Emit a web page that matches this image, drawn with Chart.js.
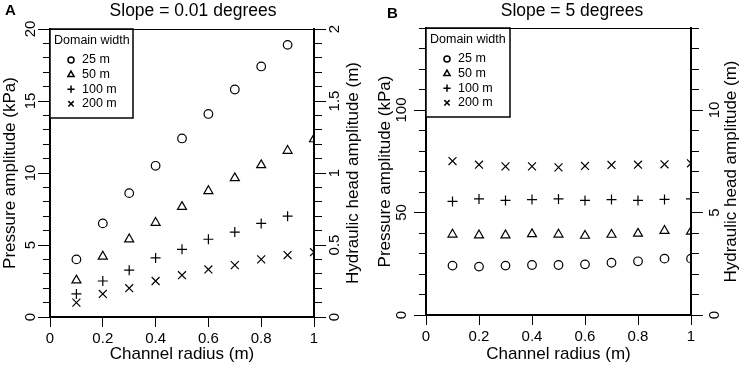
<!DOCTYPE html>
<html lang="en">
<head>
    <meta charset="UTF-8">
    <title>Pressure amplitude vs channel radius</title>
    <script src="https://cdn.jsdelivr.net/npm/chart.js"></script>
    <style>
        body {
            margin: 0;
            background-color: white;
        }
        .panel {
            position: absolute;
            top: 0;
            width: 372px;
            height: 367px;
        }
    </style>
</head>
<body>
    <div class="panel" style="left: 0px;"><canvas id="chartA" width="372" height="367"></canvas></div>
    <div class="panel" style="left: 371px;"><canvas id="chartB" width="372" height="367"></canvas></div>

    <script>
        // Data
        const radius = [0.1, 0.2, 0.3, 0.4, 0.5, 0.6, 0.7, 0.8, 0.9, 1.0];
        const widthLabels = ['25 m', '50 m', '100 m', '200 m'];

        // Panel A, slope 0.01 degrees (kPa)
        const slopeA25 = [4.0, 6.5, 8.6, 10.5, 12.4, 14.1, 15.8, 17.4, 18.9, null];
        const slopeA50 = [2.55, 4.2, 5.4, 6.55, 7.65, 8.75, 9.65, 10.55, 11.55, 12.35];
        const slopeA100 = [1.6, 2.5, 3.25, 4.1, 4.7, 5.4, 5.9, 6.5, 7.0, null];
        const slopeA200 = [1.0, 1.6, 2.0, 2.5, 2.9, 3.3, 3.6, 4.0, 4.3, 4.5];

        // Panel B, slope 5 degrees (kPa)
        const slopeB25 = [24.1, 23.6, 24.1, 24.4, 24.4, 24.7, 25.5, 26.2, 27.5, 27.5];
        const slopeB50 = [39.3, 38.9, 38.9, 39.5, 39.3, 38.7, 39.2, 39.7, 41.1, 40.7];
        const slopeB100 = [55.4, 56.6, 55.9, 56.3, 56.6, 55.9, 56.3, 55.9, 56.4, 56.6];
        const slopeB200 = [75.1, 73.3, 72.5, 72.5, 72.0, 72.7, 73.2, 73.3, 73.5, 74.0];

        const FONT = '"Liberation Sans", Arial, sans-serif';
        const markers = [
            { style: 'circle', r: 4.3, legendR: 3 },
            { style: 'triangle', r: 5.2, legendR: 3.6 },
            { style: 'cross', r: 5, legendR: 3.6 },
            { style: 'crossRot', r: 5.6, legendR: 3.8 }
        ];

        function isMultiple(v, step) {
            const q = v / step;
            return Math.abs(q - Math.round(q)) < 1e-6;
        }

        function fmt(v) {
            return String(Number(v.toFixed(3)));
        }

        // titles, panel letter, right axis title and the top border
        const panelText = {
            id: 'panelText',
            afterDraw(chart, args, opts) {
                const ctx = chart.ctx;
                const area = chart.chartArea;
                ctx.save();
                ctx.fillStyle = '#000';
                ctx.textBaseline = 'middle';
                ctx.font = 'bold 15px ' + FONT;
                ctx.textAlign = 'left';
                ctx.fillText(opts.letter, opts.letterX, opts.letterY);
                ctx.font = '17.5px ' + FONT;
                ctx.textAlign = 'center';
                ctx.fillText(opts.title, opts.titleX, 11);

                ctx.translate(opts.rightTitleX, (area.top + area.bottom) / 2);
                ctx.rotate(-Math.PI / 2);
                ctx.font = '17px ' + FONT;
                ctx.fillText(opts.rightTitle, 0, 0);
                ctx.restore();

                ctx.save();
                ctx.strokeStyle = '#000';
                ctx.lineWidth = 1;
                ctx.beginPath();
                ctx.moveTo(area.left, area.top + 0.5);
                ctx.lineTo(area.right, area.top + 0.5);
                ctx.stroke();
                ctx.restore();
            }
        };

        // "Domain width" key in the top left corner
        const domainKey = {
            id: 'domainKey',
            afterDatasetsDraw(chart, args, opts) {
                const ctx = chart.ctx;
                const area = chart.chartArea;
                ctx.save();
                ctx.fillStyle = '#fff';
                ctx.fillRect(area.left, area.top, opts.w, opts.h);
                ctx.strokeStyle = '#000';
                ctx.lineWidth = 1.5;
                ctx.strokeRect(area.left, area.top, opts.w, opts.h);
                ctx.fillStyle = '#000';
                ctx.textBaseline = 'middle';
                ctx.textAlign = 'left';
                ctx.font = '12.5px ' + FONT;
                ctx.fillText('Domain width', area.left + 4, area.top + 12);
                chart.data.datasets.forEach((ds, i) => {
                    const y = area.top + 31 + i * 14.6;
                    ctx.strokeStyle = '#000';
                    ctx.fillStyle = 'rgba(0,0,0,0)';
                    Chart.helpers.drawPoint(ctx, {
                        pointStyle: markers[i].style,
                        radius: markers[i].legendR,
                        borderWidth: 1.2,
                        rotation: 0
                    }, area.left + 21, y);
                    ctx.fillStyle = '#000';
                    ctx.fillText(ds.label, area.left + 32, y);
                });
                ctx.restore();
            }
        };

        function makeDatasets(seriesList) {
            return seriesList.map((values, i) => ({
                label: widthLabels[i],
                data: radius.map((r, j) => ({ x: r, y: values[j] })),
                showLine: false,
                pointStyle: markers[i].style,
                pointRadius: markers[i].r,
                pointBorderWidth: 1.2,
                pointBorderColor: '#000',
                pointBackgroundColor: 'rgba(0,0,0,0)'
            }));
        }

        // one axis per side: minor ticks every minorStep, longer labelled ticks every majorStep
        function yAxis(position, max, majorStep, minorStep, width, labelPad, title, titlePad) {
            return {
                type: 'linear',
                display: true,
                position: position,
                min: 0,
                max: max,
                ticks: {
                    stepSize: minorStep,
                    autoSkip: false,
                    minRotation: 90,
                    maxRotation: 90,
                    crossAlign: 'center',
                    padding: labelPad,
                    color: '#000',
                    font: { family: FONT, size: 15 },
                    callback: v => isMultiple(v, majorStep) ? fmt(v) : ''
                },
                grid: {
                    drawOnChartArea: false,
                    tickLength: 12,
                    tickColor: '#000',
                    tickWidth: 1,
                    tickBorderDash: ctx => {
                        if (isMultiple(ctx.tick.value, majorStep)) return [];
                        return position === 'left' ? [0, 5, 7, 0] : [7, 5];
                    }
                },
                border: { color: '#000', width: 2 },
                title: {
                    display: !!title,
                    text: title || '',
                    color: '#000',
                    font: { family: FONT, size: 17 },
                    padding: { top: titlePad, bottom: 0 }
                },
                afterFit: s => { s.width = width; }
            };
        }

        function makeChart(canvasId, seriesList, cfg) {
            const scales = {
                x: {
                    type: 'linear',
                    min: 0,
                    max: 1,
                    ticks: {
                        stepSize: 0.2,
                        padding: 3,
                        color: '#000',
                        font: { family: FONT, size: 15 },
                        callback: v => fmt(v)
                    },
                    grid: {
                        drawOnChartArea: false,
                        tickLength: 10,
                        tickColor: '#000',
                        tickWidth: 1
                    },
                    border: { color: '#000', width: 2 },
                    title: {
                        display: true,
                        text: 'Channel radius (m)',
                        color: '#000',
                        font: { family: FONT, size: 17 },
                        padding: { top: 0, bottom: 2 }
                    },
                    afterFit: s => { s.height = cfg.xHeight; }
                },
                y: yAxis('left', cfg.leftMax, cfg.leftMajor, cfg.leftMinor, cfg.leftWidth, cfg.leftPad,
                    'Pressure amplitude (kPa)', cfg.leftTitlePad),
                y2: yAxis('right', cfg.rightMax, cfg.rightMajor, cfg.rightMinor, cfg.rightWidth, cfg.rightPad,
                    null, 0)
            };

            return new Chart(document.getElementById(canvasId), {
                type: 'scatter',
                data: { datasets: makeDatasets(seriesList) },
                options: {
                    responsive: false,
                    animation: false,
                    events: [],
                    layout: { padding: { top: cfg.top, left: 0, right: 0, bottom: 0 } },
                    scales: scales,
                    plugins: {
                        legend: { display: false },
                        tooltip: { enabled: false },
                        panelText: cfg.text,
                        domainKey: cfg.key
                    }
                },
                plugins: [panelText, domainKey]
            });
        }

        makeChart('chartA', [slopeA25, slopeA50, slopeA100, slopeA200], {
            top: 29, xHeight: 50,
            leftMax: 20, leftMajor: 5, leftMinor: 1,
            rightMax: 2, rightMajor: 0.5, rightMinor: 0.1,
            leftWidth: 50, rightWidth: 58, leftPad: -1, rightPad: -2, leftTitlePad: 0,
            text: {
                letter: 'A', letterX: 5, letterY: 11,
                title: 'Slope = 0.01 degrees', titleX: 193,
                rightTitle: 'Hydraulic head amplitude (m)', rightTitleX: 353
            },
            key: { w: 83, h: 89 }
        });

        makeChart('chartB', [slopeB25, slopeB50, slopeB100, slopeB200], {
            top: 28, xHeight: 52,
            leftMax: 140, leftMajor: 50, leftMinor: 10,
            rightMax: 14, rightMajor: 5, rightMinor: 1,
            leftWidth: 55, rightWidth: 52, leftPad: 0, rightPad: 4, leftTitlePad: 4,
            text: {
                letter: 'B', letterX: 16, letterY: 14,
                title: 'Slope = 5 degrees', titleX: 201,
                rightTitle: 'Hydraulic head amplitude (m)', rightTitleX: 360
            },
            key: { w: 84, h: 89 }
        });
    </script>
</body>
</html>
